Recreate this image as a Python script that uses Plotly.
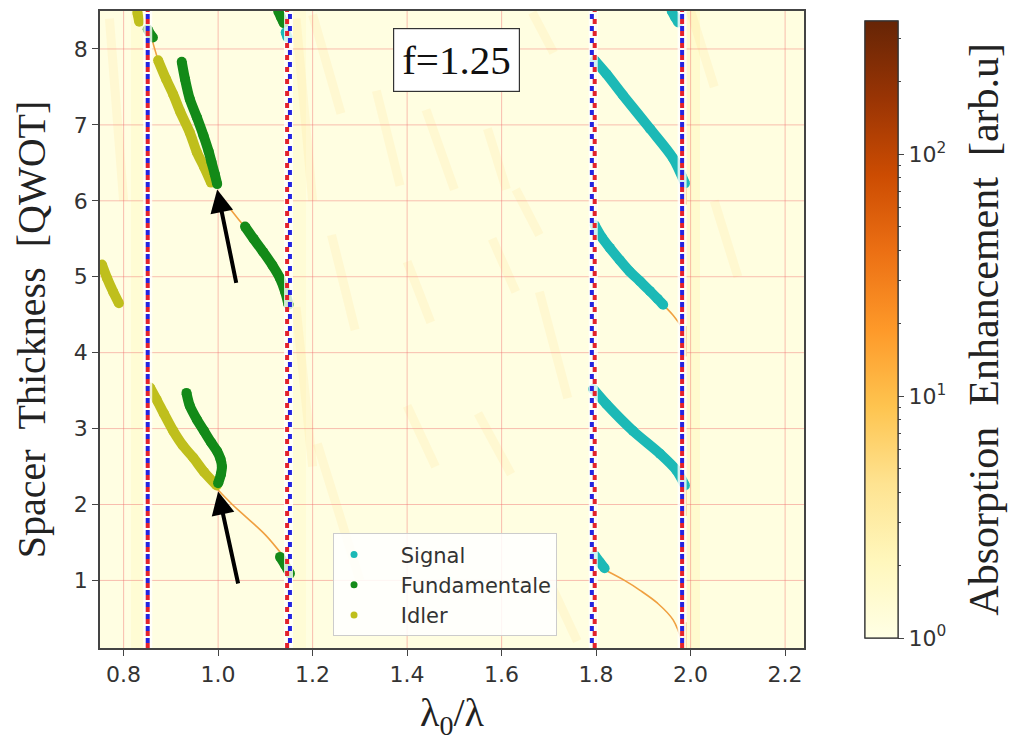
import numpy as np
import plotly.graph_objects as go

# ---------------- data ----------------
# background enhancement bands (column edges along lambda0/lambda, value in arb.u)
band_edges = [0.75, 0.815, 0.845, 1.155, 1.185, 1.985, 2.02, 2.24]
band_enhancement = [1.05, 1.35, 1.05, 1.3, 1.08, 1.5, 1.1]
y_edges = [0.11, 8.5]

# faint enhancement streaks (x0, x1, y0, y1)
streak_x0 = [1.20, 1.335, 1.44, 1.57, 1.63, 1.665, 1.24, 1.21, 1.40, 1.55, 1.68, 1.70, 1.40, 1.58, 2.00, 2.05, 1.165, 1.165, 0.77]
streak_x1 = [1.26, 1.385, 1.50, 1.61, 1.68, 1.71, 1.29, 1.30, 1.46, 1.62, 1.74, 1.76, 1.45, 1.63, 2.05, 2.10, 1.20, 1.20, 0.80]
streak_y0 = [8.45, 7.45, 7.2, 6.95, 6.15, 8.48, 5.55, 2.8, 3.3, 3.2, 4.8, 1.0, 5.2, 5.5, 8.5, 6.0, 8.4, 4.6, 8.4]
streak_y1 = [7.15, 6.2, 6.15, 6.15, 5.55, 7.95, 4.3, 1.0, 2.5, 2.4, 3.4, 0.2, 4.4, 4.8, 7.5, 5.0, 6.0, 2.5, 6.0]

# thin bright ridges of the absorption map
ridge_x = [[0.852, 0.862, 0.873],
           [0.998, 1.025, 1.053],
           [0.997, 1.03, 1.06, 1.10, 1.134],
           [1.818, 1.86, 1.893, 1.93, 1.963, 1.984],
           [1.942, 1.962, 1.98]]
ridge_y = [[8.30, 8.08, 7.85],
           [6.12, 5.90, 5.68],
           [2.21, 2.00, 1.83, 1.60, 1.35],
           [1.14, 1.00, 0.87, 0.70, 0.48, 0.15],
           [4.63, 4.50, 4.35]]

# hot spots along the 1.98 resonance
spot_x = [1.988, 1.988, 1.988, 1.988]
spot_y0 = [6.35, 4.35, 2.25, 0.45]
spot_y1 = [5.95, 3.95, 1.85, 0.11]

# Idler branches
idler_x = [[0.754, 0.765, 0.778, 0.790],
           [0.829, 0.833],
           [0.873, 0.89, 0.905, 0.92, 0.94, 0.955, 0.97, 0.985],
           [0.856, 0.87, 0.885, 0.905, 0.925, 0.947, 0.97, 0.997]]
idler_y = [[5.16, 4.98, 4.80, 4.65],
           [8.48, 8.36],
           [7.85, 7.60, 7.40, 7.17, 6.90, 6.64, 6.45, 6.24],
           [3.54, 3.38, 3.20, 2.97, 2.78, 2.62, 2.43, 2.25]]

# Fundamental branches
fund_x = [[0.851, 0.858, 0.862],
          [0.923, 0.93, 0.94, 0.955, 0.969, 0.98, 0.986, 0.993, 0.998],
          [1.057, 1.075, 1.095, 1.115, 1.131, 1.142, 1.149],
          [1.127, 1.133, 1.139],
          [0.933, 0.94, 0.955, 0.97, 0.985, 0.998, 1.005, 1.008, 1.006, 1.0],
          [1.131, 1.142, 1.152]]
fund_y = [[8.26, 8.18, 8.15],
          [7.83, 7.60, 7.34, 7.10, 6.86, 6.65, 6.51, 6.35, 6.22],
          [5.66, 5.50, 5.33, 5.15, 4.98, 4.80, 4.63],
          [8.50, 8.42, 8.34],
          [3.47, 3.30, 3.12, 2.97, 2.82, 2.70, 2.60, 2.50, 2.40, 2.28],
          [1.31, 1.20, 1.09]]

# Signal branches
signal_x = [[1.960, 1.967, 1.974],
            [1.797, 1.822, 1.857, 1.914, 1.963, 1.988],
            [1.797, 1.812, 1.829, 1.850, 1.871, 1.893, 1.914, 1.930, 1.942],
            [1.794, 1.822, 1.878, 1.935, 1.970, 1.988],
            [1.797, 1.808, 1.818],
            [1.143, 1.147]]
signal_y = [[8.50, 8.42, 8.35],
            [7.85, 7.67, 7.39, 6.95, 6.56, 6.23],
            [5.68, 5.52, 5.38, 5.22, 5.07, 4.94, 4.81, 4.71, 4.63],
            [3.52, 3.32, 2.97, 2.67, 2.45, 2.25],
            [1.33, 1.24, 1.16],
            [8.22, 8.15]]

# resonance markers (vertical dashed lines)
red_lines = [0.851, 1.146, 1.797, 1.982]
blue_lines = [0.851, 1.152, 1.791, 1.982]

# arrows (tail -> head)
arrow_tail_x = [1.039, 1.043]
arrow_tail_y = [4.90, 0.94]
arrow_head_x = [0.998, 1.000]
arrow_head_y = [6.15, 2.17]

x_ticks = [0.8, 1.0, 1.2, 1.4, 1.6, 1.8, 2.0, 2.2]
y_ticks = [1, 2, 3, 4, 5, 6, 7, 8]
x_range = [0.75, 2.24]
y_range = [0.11, 8.5]
cb_major = [1, 10, 100]
cb_minor = [2, 3, 4, 5, 6, 7, 8, 9, 20, 30, 40, 50, 60, 70, 80, 90, 200, 300]
cmax = 355.0

# ---------------- styles ----------------
C_SIGNAL = '#1cb9b6'
C_FUND = '#138a18'
C_IDLER = '#bfbf1c'
C_RIDGE = '#f0a040'
C_GRID = 'rgba(240,110,110,0.45)'
SANS = 'DejaVu Sans'
SERIF = 'Liberation Serif'
PAD = '\u00a0\u00a0\u00a0\u00a0'

ylorbr = [[0.0, '#ffffe5'], [0.125, '#fff7bc'], [0.25, '#fee391'], [0.375, '#fec44f'],
          [0.5, '#fe9929'], [0.625, '#ec7014'], [0.75, '#cc4c02'], [0.875, '#993404'],
          [1.0, '#662506']]

zmax = np.log10(cmax)
cb_common = dict(x=1.0724, xanchor='left', xref='paper', y=0.5, yanchor='middle',
                 len=1.0, thickness=33, outlinewidth=1.2, outlinecolor='#333',
                 tickmode='array', ticks='outside', tickcolor='#444')

fig = go.Figure()

fig.add_trace(go.Heatmap(
    x=band_edges, y=y_edges, z=[np.log10(band_enhancement).tolist()],
    colorscale=ylorbr, zmin=0, zmax=zmax, hoverinfo='skip',
    colorbar=dict(tickvals=np.log10(cb_major).tolist(),
                  ticktext=['10<sup>%d</sup>' % int(np.log10(v)) for v in cb_major],
                  ticklen=6, tickfont=dict(family=SANS, size=22, color='#333'), **cb_common),
    showscale=True))

# second colorbar in the same place carrying only the minor log ticks
fig.add_trace(go.Scatter(
    x=[None], y=[None], mode='markers', showlegend=False, hoverinfo='skip',
    marker=dict(color=[0, zmax], colorscale=ylorbr, cmin=0, cmax=zmax, showscale=True,
                colorbar=dict(tickvals=np.log10(cb_minor).tolist(), showticklabels=False,
                              ticklen=3, **cb_common))))

# faint streaks
for x0, x1, y0, y1 in zip(streak_x0, streak_x1, streak_y0, streak_y1):
    fig.add_trace(go.Scatter(x=[x0, x1], y=[y0, y1], mode='lines',
                             line=dict(color='rgba(254,215,110,0.14)', width=9),
                             showlegend=False, hoverinfo='skip'))

# grid lines (drawn over the map, under the curves)
gx, gy = [], []
for t in x_ticks:
    gx += [t, t, None]
    gy += [y_range[0], y_range[1], None]
for t in y_ticks:
    gx += [x_range[0], x_range[1], None]
    gy += [t, t, None]
fig.add_trace(go.Scatter(x=gx, y=gy, mode='lines', line=dict(color=C_GRID, width=1),
                         showlegend=False, hoverinfo='skip'))

# hot spots
for xs, a, b in zip(spot_x, spot_y0, spot_y1):
    fig.add_trace(go.Scatter(x=[xs, xs], y=[a, b], mode='lines',
                             line=dict(color='rgba(250,170,60,0.8)', width=4),
                             showlegend=False, hoverinfo='skip'))

# thin ridges
for xs, ys in zip(ridge_x, ridge_y):
    fig.add_trace(go.Scatter(x=xs, y=ys, mode='lines', line=dict(color=C_RIDGE, width=1.6, shape='spline'),
                             showlegend=False, hoverinfo='skip'))


def add_branches(xl, yl, color):
    for xs, ys in zip(xl, yl):
        fig.add_trace(go.Scatter(x=xs, y=ys, mode='lines+markers',
                                 line=dict(color=color, width=10, shape='spline', smoothing=0.8),
                                 marker=dict(color=color, size=10),
                                 showlegend=False, hoverinfo='skip'))


add_branches(idler_x, idler_y, C_IDLER)
add_branches(fund_x, fund_y, C_FUND)
add_branches(signal_x, signal_y, C_SIGNAL)

# dashed resonance lines
for xr, xb in zip(red_lines, blue_lines):
    fig.add_trace(go.Scatter(x=[(xr + xb) / 2] * 2, y=y_range, mode='lines',
                             line=dict(color='rgba(255,255,255,0.8)', width=9),
                             showlegend=False, hoverinfo='skip'))
for xr in red_lines:
    fig.add_trace(go.Scatter(x=[xr, xr], y=y_range, mode='lines',
                             line=dict(color='#e3232b', width=4, dash='5px,7px'),
                             showlegend=False, hoverinfo='skip'))
for xb in blue_lines:
    fig.add_trace(go.Scatter(x=[xb, xb], y=y_range, mode='lines',
                             line=dict(color='#2424e0', width=4, dash='0px,5px,5px,2px'),
                             showlegend=False, hoverinfo='skip'))

# legend entries
for name, col in [('Signal', C_SIGNAL), ('Fundamentale', C_FUND), ('Idler', C_IDLER)]:
    fig.add_trace(go.Scatter(x=[None], y=[None], mode='markers', name=PAD + name,
                             marker=dict(color=col, size=7)))

# arrows
for tx, ty, hx, hy in zip(arrow_tail_x, arrow_tail_y, arrow_head_x, arrow_head_y):
    fig.add_annotation(x=hx, y=hy, ax=tx, ay=ty, xref='x', yref='y', axref='x', ayref='y',
                       text='', showarrow=True, arrowhead=2, arrowsize=1.15, arrowwidth=4,
                       arrowcolor='black')

# f label
fig.add_annotation(x=1.505, y=7.86, xref='x', yref='y', text='f=1.25', showarrow=False,
                   font=dict(family=SERIF, size=41, color='#111'), bgcolor='white',
                   bordercolor='#333', borderwidth=1.2, borderpad=8)

# colorbar title
fig.add_annotation(x=1.29, y=0.5, xref='paper', yref='paper',
                   text='Absorption\u00a0\u00a0Enhancement\u00a0\u00a0[arb.u]',
                   textangle=-90, showarrow=False, font=dict(family=SERIF, size=42, color='#222'))

axis_common = dict(showline=True, mirror=True, linecolor='#444', linewidth=1.5,
                   ticks='outside', ticklen=6, tickcolor='#444', tickwidth=1.2,
                   showgrid=False, zeroline=False,
                   tickfont=dict(family=SANS, size=22, color='#333'))

fig.update_layout(
    width=1015, height=751,
    margin=dict(l=100, r=211, t=9, b=103),
    paper_bgcolor='white', plot_bgcolor='#ffffe5',
    xaxis=dict(range=x_range, tickvals=x_ticks, ticktext=['%.1f' % v for v in x_ticks],
               title=dict(text='λ<sub>0</sub>/λ', font=dict(family=SERIF, size=40, color='#222'), standoff=12),
               **axis_common),
    yaxis=dict(range=y_range, tickvals=y_ticks, ticktext=[str(v) for v in y_ticks],
               title=dict(text='Spacer\u00a0\u00a0Thickness\u00a0\u00a0[QWOT]', font=dict(family=SERIF, size=40, color='#222'), standoff=16),
               **axis_common),
    legend=dict(x=0.331, y=0.18, xanchor='left', yanchor='top', bgcolor='rgba(255,255,255,0.85)',
                bordercolor='#cccccc', borderwidth=1, font=dict(family=SANS, size=21, color='#333'),
                itemsizing='trace'),
    showlegend=True,
)

fig.write_html('out.html')
